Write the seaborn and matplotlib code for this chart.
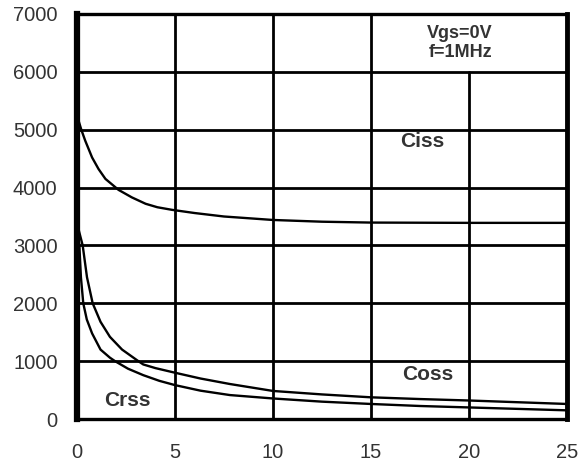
import matplotlib
matplotlib.use("Agg")
import matplotlib.pyplot as plt
import seaborn as sns
import pandas as pd

# Capacitance (pF) versus drain-source voltage (V)
ciss_v = [0, 0.05, 0.22, 0.42, 0.77, 1.1, 1.45, 2.12, 2.8, 3.5, 4.1, 4.85, 6.0,
          7.5, 10, 12.5, 15, 20, 25]
ciss = [5250, 5190, 5000, 4810, 4520, 4320, 4150, 3960, 3830, 3720, 3660, 3615, 3560,
        3500, 3440, 3410, 3395, 3390, 3390]

coss_v = [0, 0.1, 0.29, 0.51, 0.8, 1.2, 1.68, 2.3, 3.13, 3.38, 4.0, 5.0, 6.3,
          7.8, 10, 12.5, 15, 17.5, 20, 22.5, 25]
coss = [3450, 3250, 3000, 2450, 2000, 1680, 1420, 1200, 1000, 943, 880, 800, 700,
        605, 485, 425, 375, 345, 320, 290, 260]

crss_v = [0, 0.05, 0.12, 0.2, 0.32, 0.5, 0.77, 1.2, 1.68, 1.94, 2.6, 3.38, 4.2,
          5.0, 6.3, 7.8, 10, 12.5, 15, 17.5, 20, 22.5, 25]
crss = [3400, 3200, 3000, 2450, 2000, 1720, 1480, 1200, 1060, 1000, 870, 758, 660,
        586, 490, 414, 355, 300, 260, 225, 200, 175, 150]

x_ticks = [0, 5, 10, 15, 20, 25]
y_ticks = [0, 1000, 2000, 3000, 4000, 5000, 6000, 7000]

sns.set_theme(style="white")
plt.rcParams["font.family"] = ["Liberation Sans", "DejaVu Sans"]

df = pd.concat([
    pd.DataFrame({"Vds": ciss_v, "C": ciss, "kind": "Ciss"}),
    pd.DataFrame({"Vds": coss_v, "C": coss, "kind": "Coss"}),
    pd.DataFrame({"Vds": crss_v, "C": crss, "kind": "Crss"}),
], ignore_index=True)

fig = plt.figure(figsize=(5.82, 4.63), dpi=100)
ax = fig.add_axes([0.1323, 0.095, 0.8419, 0.8748])

sns.lineplot(data=df, x="Vds", y="C", hue="kind",
             palette={"Ciss": "black", "Coss": "black", "Crss": "black"},
             linewidth=1.7, legend=False, sort=True, ax=ax, zorder=3)

ax.set_xlim(0, 25)
ax.set_ylim(0, 7000)
ax.set_xticks(x_ticks)
ax.set_yticks(y_ticks)
ax.set_xlabel("")
ax.set_ylabel("")

# grid: horizontal lines full width, the 20 V line stops below the condition box
for yv in y_ticks[1:-1]:
    ax.axhline(yv, color="black", linewidth=2.0, zorder=2)
for xv in x_ticks[1:-1]:
    top = 6000 / 7000 if xv == 20 else 1.0
    ax.axvline(xv, ymin=0, ymax=top, color="black", linewidth=2.0, zorder=2)

for side, lw in {"left": 4.5, "right": 3.5, "bottom": 2.4, "top": 2.4}.items():
    ax.spines[side].set_visible(True)
    ax.spines[side].set_color("black")
    ax.spines[side].set_linewidth(lw)
    ax.spines[side].set_zorder(4)

ax.tick_params(axis="both", length=0, labelsize=14.5, labelcolor="#333333")
ax.tick_params(axis="y", pad=14)
ax.tick_params(axis="x", pad=17)

txt = dict(color="#333333", fontweight="bold", ha="center", va="center")
ax.text(19.55, 6670, "Vgs=0V", fontsize=13, **txt)
ax.text(19.55, 6330, "f=1MHz", fontsize=13, **txt)
ax.text(17.6, 4790, "Ciss", fontsize=15, **txt)
ax.text(17.9, 776, "Coss", fontsize=15, **txt)
ax.text(2.55, 327, "Crss", fontsize=15, **txt)

fig.savefig("out.png", dpi=100, facecolor="white")
